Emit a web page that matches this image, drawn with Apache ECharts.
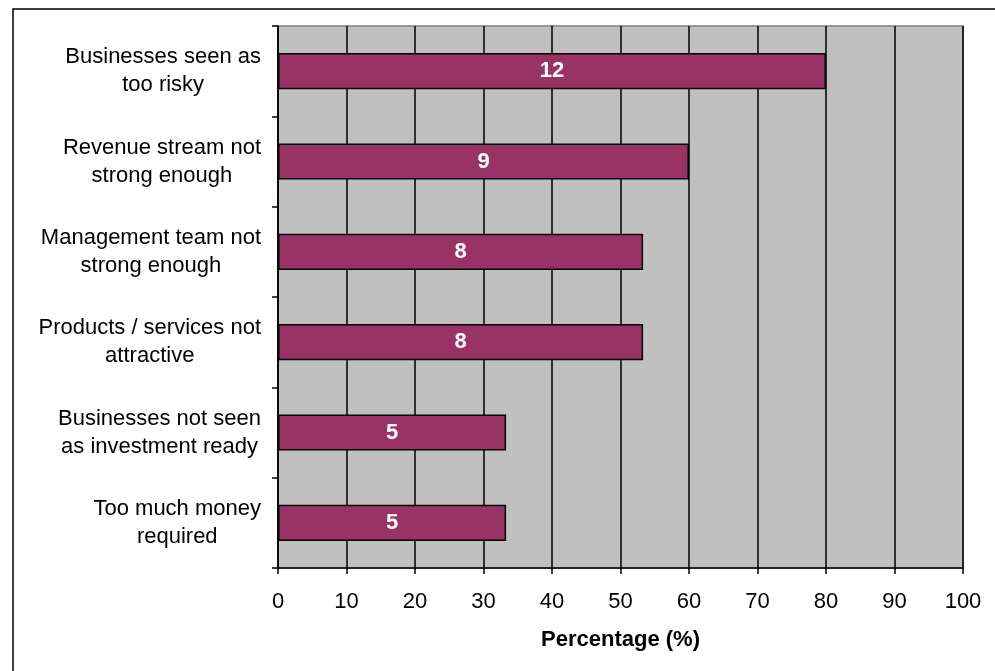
<!DOCTYPE html>
<html>
<head>
<meta charset="utf-8">
<script src="https://cdn.jsdelivr.net/npm/echarts@6/dist/echarts.min.js"></script>
<style>
html,body{margin:0;padding:0;background:#fff;}
#chart{width:995px;height:671px;}
</style>
</head>
<body>
<div id="chart"></div>
<script>
const categories = [
  'Businesses seen as\ntoo risky',
  'Revenue stream not\nstrong enough',
  'Management team not\nstrong enough',
  'Products / services not\nattractive',
  'Businesses not seen\nas investment ready',
  'Too much money\nrequired'
];
const percentages = [80, 60, 53.3, 53.3, 33.3, 33.3];
const counts = [12, 9, 8, 8, 5, 5];
const xTicks = [0, 10, 20, 30, 40, 50, 60, 70, 80, 90, 100];

const FONT = '"Liberation Sans", Arial, sans-serif';
const chart = echarts.init(document.getElementById('chart'), null, {renderer: 'canvas'});
chart.setOption({
  animation: false,
  backgroundColor: '#ffffff',
  textStyle: {fontFamily: FONT},
  graphic: [{
    type: 'rect',
    shape: {x: 13, y: 9, width: 1100, height: 800},
    style: {fill: 'none', stroke: '#000', lineWidth: 1.5},
    silent: true,
    z: 100
  }],
  grid: {
    left: 278, right: 32, top: 26, bottom: 103,
    show: true, backgroundColor: '#C0C0C0', borderColor: '#808080', borderWidth: 1.5
  },
  xAxis: {
    type: 'value', min: xTicks[0], max: xTicks[xTicks.length - 1], interval: 10,
    name: 'Percentage (%)', nameLocation: 'middle', nameGap: 61,
    nameTextStyle: {fontFamily: FONT, fontSize: 22, fontWeight: 'bold', color: '#000'},
    axisLine: {show: true, lineStyle: {color: '#000', width: 1.5}},
    axisTick: {show: true, length: 6, lineStyle: {color: '#000', width: 1.5}},
    axisLabel: {fontFamily: FONT, fontSize: 22, color: '#000', margin: 23},
    splitLine: {show: true, lineStyle: {color: '#000', width: 1.5}}
  },
  yAxis: {
    type: 'category', data: categories, inverse: true,
    axisLine: {show: true, lineStyle: {color: '#000', width: 1.5}},
    axisTick: {show: true, length: 6, lineStyle: {color: '#000', width: 1.5}},
    axisLabel: {
      fontFamily: FONT, fontSize: 22, color: '#000', margin: 17, align: 'right',
      lineHeight: 28,
      formatter: function (v) {
        return v.split('\n').map(function (s) { return '{c|' + s + '}'; }).join('\n');
      },
      rich: {c: {align: 'center', fontFamily: FONT, fontSize: 22, color: '#000', lineHeight: 28}}
    },
    splitLine: {show: false}
  },
  series: [{
    type: 'bar',
    data: percentages,
    barWidth: '40%',
    itemStyle: {color: '#993366', borderColor: '#000', borderWidth: 1.5},
    label: {
      show: true, position: 'inside', color: '#fff', fontFamily: FONT,
      fontSize: 22, fontWeight: 'bold',
      formatter: function (p) { return String(counts[p.dataIndex]); }
    }
  }]
});
</script>
</body>
</html>
